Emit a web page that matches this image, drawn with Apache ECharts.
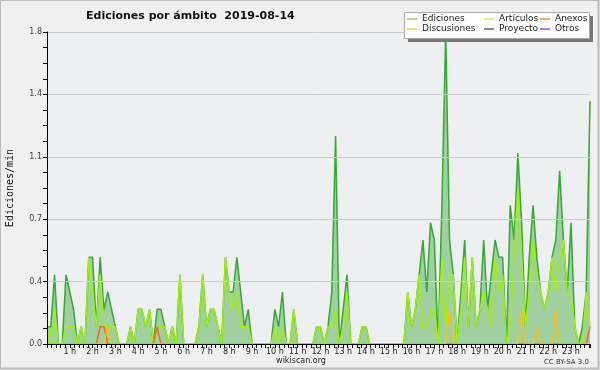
<!DOCTYPE html>
<html><head><meta charset="utf-8">
<script src="https://cdn.jsdelivr.net/npm/echarts@6/dist/echarts.min.js"></script>
<style>html,body{margin:0;padding:0;background:#f0f0f0}#c{width:600px;height:370px}</style>
</head><body><div id="c"></div>
<script>
// tick labels for hours 1..23 (one tick every 6 ten-minute slots)
const hourLabels = ['1 h','2 h','3 h','4 h','5 h','6 h','7 h','8 h','9 h','10 h','11 h','12 h',
  '13 h','14 h','15 h','16 h','17 h','18 h','19 h','20 h','21 h','22 h','23 h'];

// edits per minute, one value per 10-minute slot (00:00 .. 23:50)
const ediciones = [
  0.1,0.1,0.4,0,0,0.4,0.3,0.2,0,0.1,0,0.5,
  0.5,0.1,0.5,0.2,0.3,0.2,0.1,0,0,0,0.1,0,
  0.2,0.2,0.1,0.2,0,0.2,0.2,0.1,0,0.1,0,0.4,
  0,0,0,0,0.1,0.4,0.1,0.2,0.2,0.1,0,0.5,
  0.3,0.3,0.5,0.3,0.1,0.2,0,0,0,0,0,0,
  0.2,0.1,0.3,0,0,0.2,0,0,0,0,0,0.1,
  0.1,0,0.1,0.3,1.2,0,0.2,0.4,0,0,0,0.1,
  0.1,0,0,0,0,0,0,0,0,0,0,0.3,
  0.1,0.2,0.4,0.6,0.3,0.7,0.6,0,0.8,1.8,0.6,0.4,
  0,0.3,0.6,0.1,0.5,0.1,0.2,0.6,0.2,0.4,0.6,0.5,
  0.5,0,0.8,0.6,1.1,0.7,0.1,0.5,0.8,0.5,0.3,0.2,
  0.3,0.5,0.6,1.0,0.6,0.3,0.7,0.1,0,0.1,0.3,1.4
];
const articulos = [
  0.1,0,0.2,0,0,0.1,0.1,0.1,0,0.1,0,0.5,
  0.3,0.1,0.4,0.1,0.1,0.1,0.1,0,0,0,0.1,0,
  0.2,0.2,0.1,0.2,0,0.1,0.1,0.1,0,0.1,0,0.4,
  0,0,0,0,0.1,0.4,0.1,0.2,0.2,0.1,0,0.5,
  0.3,0.2,0.3,0.1,0.1,0.1,0,0,0,0,0,0,
  0.1,0,0.1,0,0,0.2,0,0,0,0,0,0.1,
  0.1,0,0.1,0.1,0.2,0,0.1,0.3,0,0,0,0.1,
  0.1,0,0,0,0,0,0,0,0,0,0,0.3,
  0.1,0.2,0.4,0.1,0.1,0.2,0.2,0,0.5,0.1,0.4,0.4,
  0,0.2,0.5,0.1,0.5,0.1,0.2,0.3,0.2,0.1,0.5,0.3,
  0.4,0,0.1,0.5,0.9,0.5,0.1,0.3,0.6,0.4,0.3,0.2,
  0.3,0.5,0.3,0.5,0.6,0.3,0.3,0.1,0,0,0.3,0.1
];
const anexos = [
  0,0,0,0,0,0,0,0,0,0,0,0,
  0,0,0.1,0.1,0,0,0,0,0,0,0,0,
  0,0,0,0,0,0.1,0,0,0,0,0,0,
  0,0,0,0,0,0,0,0,0,0,0,0,
  0,0,0,0,0,0,0,0,0,0,0,0,
  0,0,0,0,0,0,0,0,0,0,0,0,
  0,0,0,0,0,0,0,0,0,0,0,0,
  0,0,0,0,0,0,0,0,0,0,0,0,
  0,0,0,0,0,0,0,0,0,0,0,0,
  0,0,0,0,0,0,0,0,0,0,0,0,
  0,0,0,0,0,0,0,0,0,0,0,0,
  0,0,0,0,0,0,0,0,0,0,0,0.1
];
const discusiones = [
  0,0,0,0,0,0,0,0,0,0,0,0,
  0,0,0,0,0.1,0,0,0,0,0,0,0,
  0,0,0,0,0,0,0,0,0,0,0,0,
  0,0,0,0,0,0,0,0,0,0,0,0,
  0,0,0,0,0,0,0,0,0,0,0,0,
  0,0,0,0,0,0,0,0,0,0,0,0,
  0,0,0,0,0,0,0,0,0,0,0,0,
  0,0,0,0,0,0,0,0,0,0,0,0,
  0,0,0,0,0,0,0,0,0,0,0.2,0,
  0,0,0,0,0,0,0,0,0,0,0,0,
  0,0,0,0,0,0.2,0,0,0,0.1,0,0,
  0,0,0.2,0,0,0,0,0,0,0,0,0
];
const proyecto = [];
const otros = [];

const pairs = arr => arr.map((v, i) => [i, v]);
const chart = echarts.init(document.getElementById('c'), null, {renderer: 'canvas'});

const legendText = {fontFamily: 'DejaVu Sans', fontSize: 9, color: '#222', lineHeight: 10};
const legendBase = {orient: 'vertical', top: 14, itemGap: 0, itemWidth: 10, itemHeight: 1.5,
  icon: 'rect', selectedMode: false, textStyle: legendText, z: 20, padding: 0};

function lineSeries(name, arr, color, z, extra) {
  return Object.assign({name: name, type: 'line', data: pairs(arr), symbol: 'none', silent: true,
    lineStyle: {color: color, width: 1.5}, itemStyle: {color: color}, z: z}, extra || {});
}

chart.setOption({
  animation: false,
  backgroundColor: '#f0f0f0',
  title: {text: 'Ediciones por ámbito  2019-08-14', left: 81, top: 6,
    textStyle: {fontFamily: 'DejaVu Sans', fontSize: 11, fontWeight: 'bold', color: '#111'}},
  grid: {left: 47, right: 10, top: 32, bottom: 26, show: true, backgroundColor: '#eeeff1',
    borderWidth: 0, containLabel: false, outerBoundsMode: 'none'},
  legend: [
    Object.assign({}, legendBase, {left: 407, data: [
      {name: 'Ediciones', itemStyle: {color: '#8fd08f'}},
      {name: 'Discusiones', itemStyle: {color: '#f5d040'}}]}),
    Object.assign({}, legendBase, {left: 484, data: [
      {name: 'Artículos', itemStyle: {color: '#d4f060'}},
      {name: 'Proyecto', itemStyle: {color: '#666666'}}]}),
    Object.assign({}, legendBase, {left: 540, data: [
      {name: 'Anexos', itemStyle: {color: '#f08a5a'}},
      {name: 'Otros', itemStyle: {color: '#9a55ee'}}]})
  ],
  xAxis: {type: 'value', min: 0, max: 143, interval: 6, z: 10,
    axisLine: {lineStyle: {color: '#000', width: 1}},
    axisTick: {length: 4, lineStyle: {color: '#000'}},
    minorTick: {show: true, splitNumber: 5, length: 4, lineStyle: {color: '#000'}},
    axisLabel: {fontFamily: 'DejaVu Sans', fontSize: 8, color: '#222', margin: 4,
      formatter: v => (v === 0 ? '' : (hourLabels[v / 6 - 1] || ''))},
    splitLine: {show: false}},
  yAxis: {type: 'value', min: 0, max: 1.8, interval: 0.36, z: 10,
    name: 'Ediciones/min', nameLocation: 'middle', nameGap: 32,
    nameTextStyle: {fontFamily: 'DejaVu Sans Mono', fontSize: 10, color: '#111'},
    axisLine: {show: true, lineStyle: {color: '#000'}},
    axisTick: {show: true, length: 4, lineStyle: {color: '#000'}},
    minorTick: {show: true, splitNumber: 4, length: 4, lineStyle: {color: '#000'}},
    axisLabel: {fontFamily: 'DejaVu Sans', fontSize: 8, color: '#444', margin: 5,
      formatter: v => (Math.round(v * 10) / 10).toFixed(1)},
    splitLine: {lineStyle: {color: '#cccccc', width: 1}}},
  series: [
    lineSeries('Ediciones', ediciones, '#35a835', 2, {areaStyle: {color: '#a0cfa0', opacity: 1}}),
    lineSeries('Artículos', articulos, '#a2ee12', 3),
    lineSeries('Anexos', anexos, '#ee6a2a', 4),
    lineSeries('Discusiones', discusiones, '#f2c02a', 5),
    lineSeries('Proyecto', proyecto, '#555555', 6),
    lineSeries('Otros', otros, '#9944ee', 7)
  ],
  graphic: [
    {type: 'rect', z: 15, silent: true, shape: {x: 408, y: 16, width: 185, height: 26}, style: {fill: '#777'}},
    {type: 'rect', z: 16, silent: true, shape: {x: 404.5, y: 12.5, width: 185, height: 26}, style: {fill: '#fff', stroke: '#aaa', lineWidth: 1}},
    {type: 'text', z: 16, silent: true, style: {text: 'wikiscan.org', x: 301, y: 361, textAlign: 'center', textVerticalAlign: 'middle', fontFamily: 'DejaVu Sans', fontSize: 8, fill: '#222'}},
    {type: 'text', z: 16, silent: true, style: {text: 'CC BY-SA 3.0', x: 589, y: 362, textAlign: 'right', textVerticalAlign: 'middle', fontFamily: 'DejaVu Sans', fontSize: 7, fill: '#333'}},
    {type: 'rect', z: 16, silent: true, shape: {x: 0.5, y: 0.5, width: 598, height: 368}, style: {fill: 'none', stroke: '#bbb', lineWidth: 1}},
    {type: 'polyline', z: 16, silent: true, shape: {points: [[598.5, 0], [598.5, 368.5], [0, 368.5]]}, style: {fill: 'none', stroke: '#bbb', lineWidth: 2}}
  ]
});
</script>
</body></html>
